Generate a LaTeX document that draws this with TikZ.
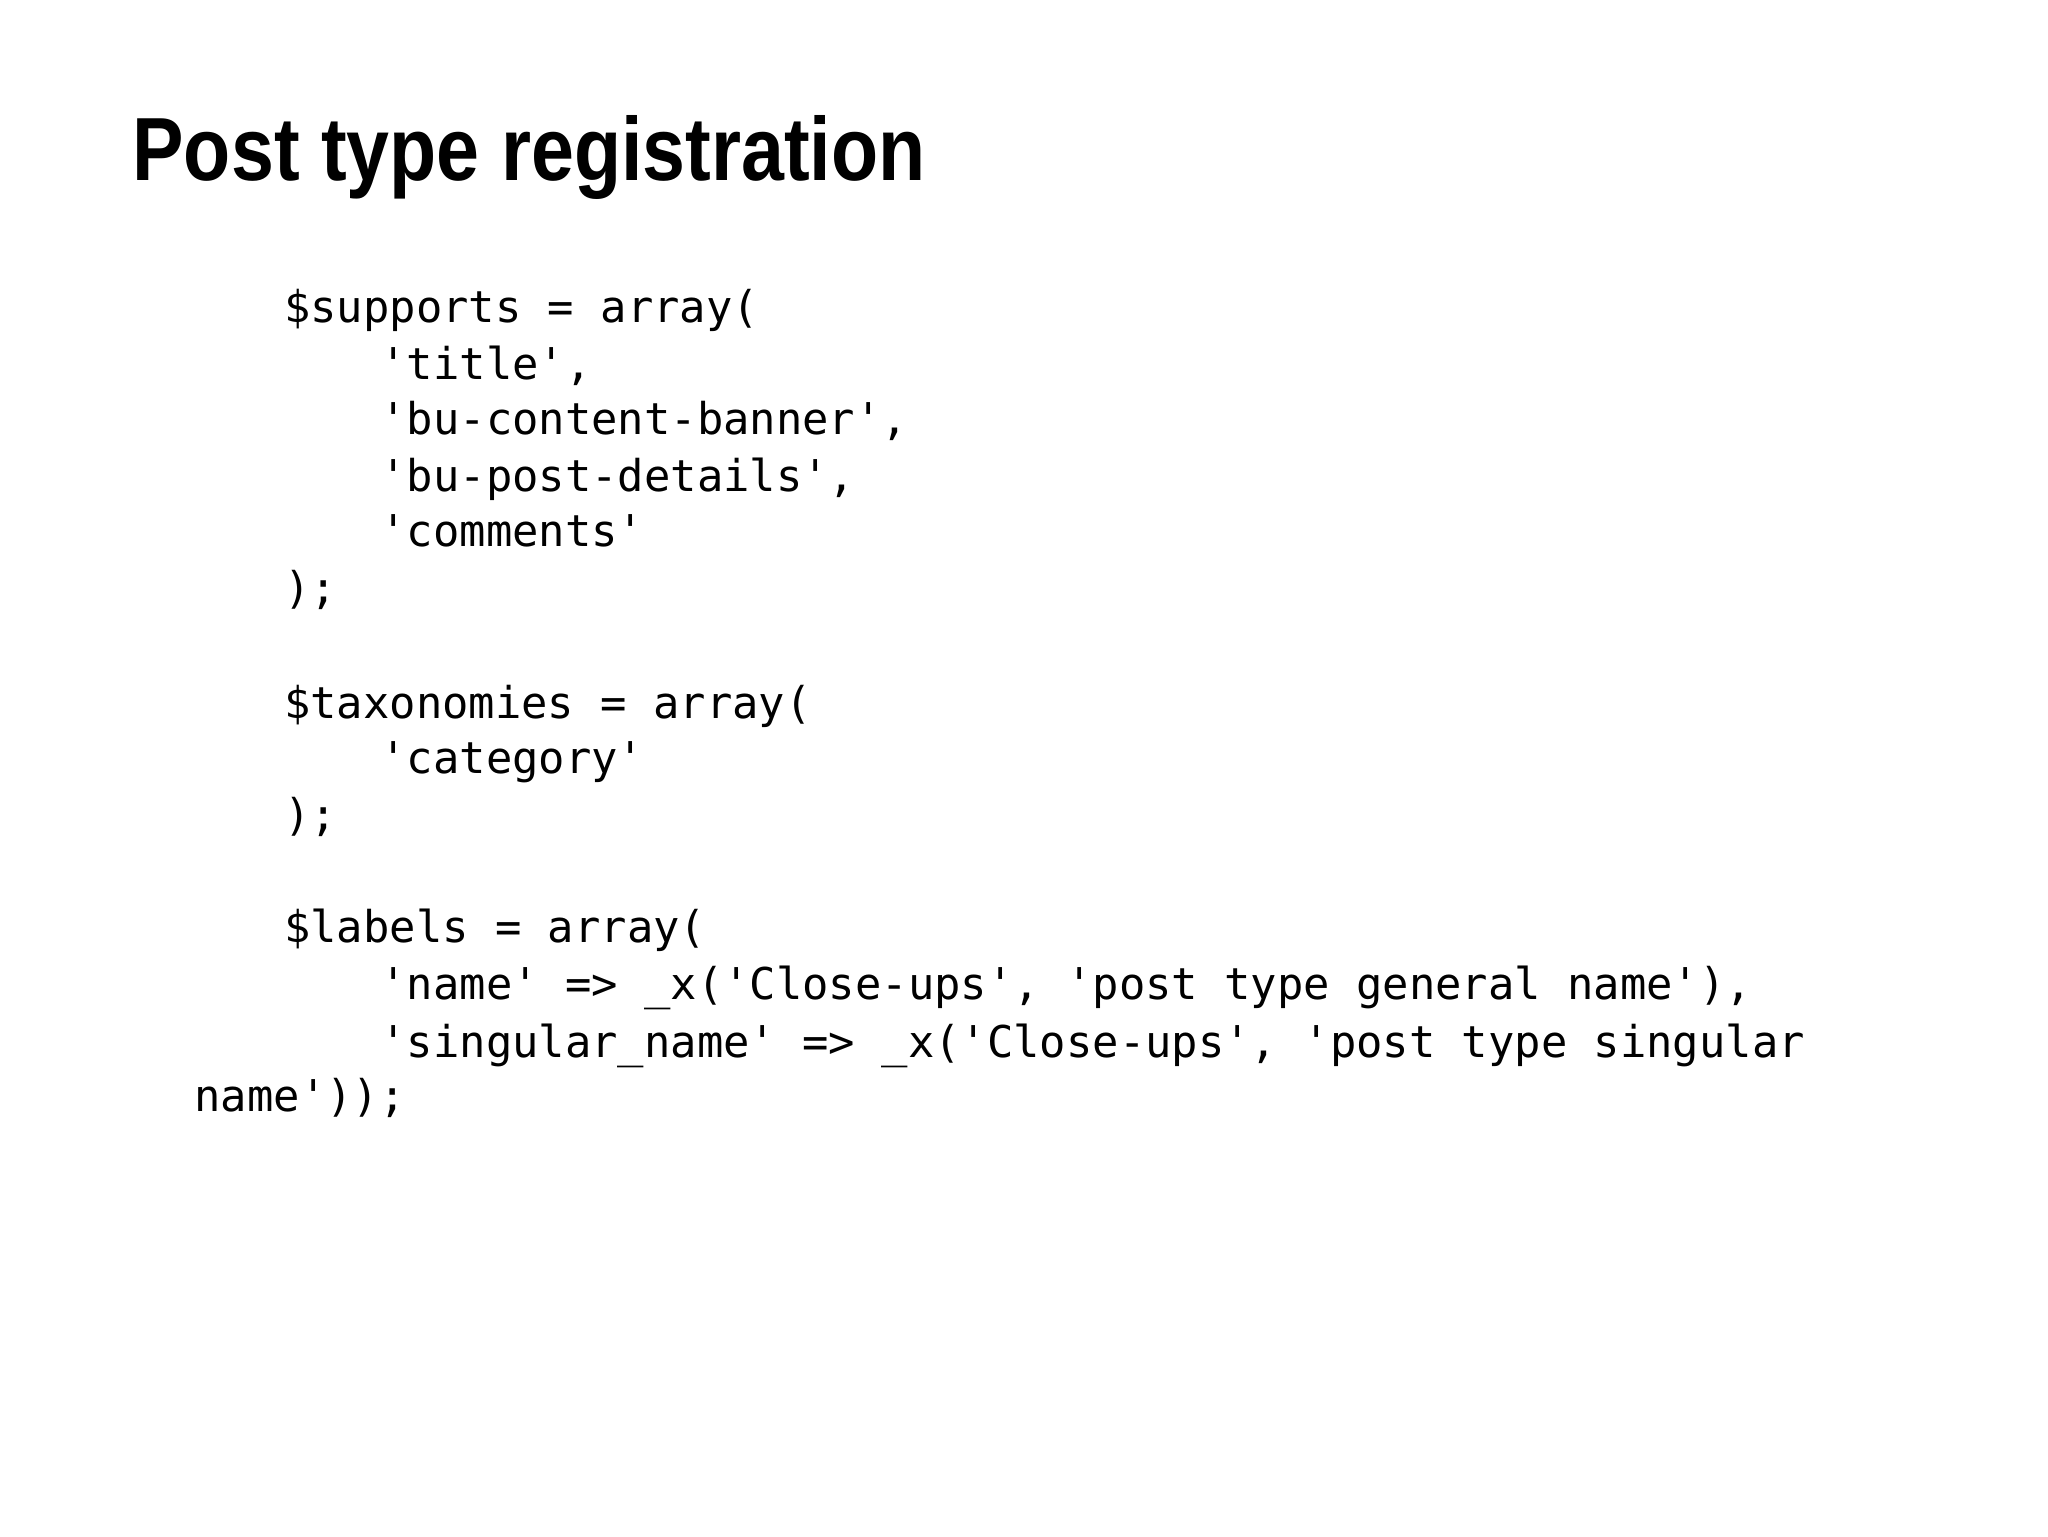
\documentclass[tikz,border=0pt]{standalone}
\usepackage{fontspec}
\newfontfamily\codefont{DejaVu Sans Mono}
\newfontfamily\titlefont{Liberation Sans}
\begin{document}
\begin{tikzpicture}[x=0.5pt,y=-0.5pt,
  code/.style={anchor=mid west,inner sep=0,font=\codefont\fontsize{16.6pt}{20pt}\selectfont}]
\useasboundingbox (0,0) rectangle (1552,1164);
\node[anchor=base west,inner sep=0] (title) at (100,137)
  {\scalebox{0.86}[1]{\titlefont\bfseries\fontsize{34pt}{40pt}\selectfont Post type registration}};
\node[code] (l1) at (215,240) {\$supports = array(};
\node[code] (l2) at (288,283) {'title',};
\node[code] (l3) at (288,325) {'bu-content-banner',};
\node[code] (l4) at (288,368) {'bu-post-details',};
\node[code] (l5) at (288,410) {'comments'};
\node[code] (l6) at (215,453) {);};
\node[code] (l7) at (215,540) {\$taxonomies = array(};
\node[code] (l8) at (288,582) {'category'};
\node[code] (l9) at (215,625) {);};
\node[code] (l10) at (215,710) {\$labels = array(};
\node[code] (l11) at (288,753) {'name' => \_x('Close-ups', 'post type general name'),};
\node[code] (l12) at (288,797) {'singular\_name' => \_x('Close-ups', 'post type singular};
\node[code] (l13) at (147,838) {name'));};
\end{tikzpicture}
\end{document}
